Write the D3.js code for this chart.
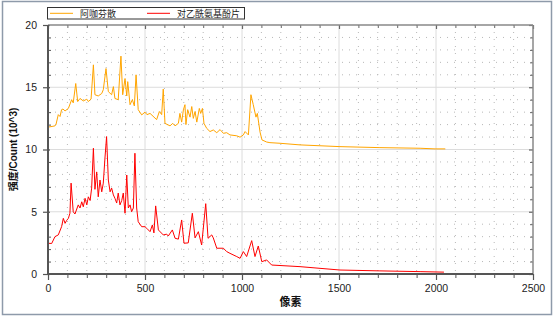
<!DOCTYPE html>
<html><head><meta charset="utf-8">
<script src="https://cdn.jsdelivr.net/npm/d3@7/dist/d3.min.js"></script>
<style>body{margin:0;background:#fff;}svg{display:block;}</style>
</head><body>
<svg id="c" width="554" height="317"></svg>
<script>
// ---- data ----
const seriesNames = ["阿咖芬散", "对乙酰氨基酚片"];
const xTicks = [0, 500, 1000, 1500, 2000, 2500];
const yTicks = [0, 5, 10, 15, 20];
const axisTitleX = "像素";
const axisTitleY = "强度/Count (10^3)";

const orangeX = [0,21,36,41,53,62,70,77,88,105,122,130,143,153,165,182,200,208,222,234,242,259,277,285,299,311,328,337,345,362,376,385,397,406,411,423,435,445,454,465,483,500,510,526,560,574,586,594,603,629,643,655,672,680,689,698,706,711,720,732,741,749,758,767,780,787,796,804,818,835,852,870,887,904,921,938,973,990,1007,1016,1033,1046,1058,1072,1079,1093,1103,1127,1144,1196,1299,1505,1711,1918,1995,2048];
const orangeY = [11.8,11.85,11.9,12.0,12.8,12.65,13.2,13.25,13.1,13.3,14.0,13.75,15.3,13.85,14.1,13.9,14.04,13.85,14.05,16.8,14.4,14.3,14.5,14.8,16.5,14.65,14.4,15.05,14.1,14.0,17.5,14.4,15.7,14.3,15.45,13.6,14.0,13.5,16.0,13.2,12.78,13.0,12.8,12.9,12.4,13.05,12.8,14.85,12.1,11.9,12.1,11.9,12.1,12.9,12.2,13.2,13.6,12.0,13.2,12.6,13.45,12.5,13.05,12.2,13.3,12.9,13.3,12.1,11.7,11.44,11.57,11.35,11.6,11.3,11.35,11.17,11.1,10.99,11.17,11.44,11.17,14.4,13.6,12.6,12.9,11.4,10.77,10.6,10.55,10.5,10.37,10.23,10.15,10.1,10.05,10.05];

const redX = [0,19,36,53,70,79,88,96,105,113,119,130,139,156,165,174,182,191,200,208,217,225,234,242,251,259,268,277,285,294,302,311,320,328,337,345,354,362,371,380,388,397,406,414,423,431,440,448,457,465,483,500,509,526,538,546,555,569,594,612,620,641,655,672,689,701,723,744,758,775,792,813,825,844,852,870,904,921,938,973,990,1007,1024,1050,1067,1084,1102,1127,1153,1299,1505,1711,1918,2041];
const redY = [2.47,2.45,3.0,3.14,3.8,4.47,4.07,4.3,4.47,4.88,7.3,5.0,4.82,5.55,5.3,5.8,5.4,6.08,5.55,6.2,5.9,6.9,10.1,6.8,8.2,6.2,7.55,6.6,7.3,9.4,11.04,7.55,6.6,6.9,6.35,6.08,5.7,6.5,5.55,5.9,6.5,4.88,7.95,5.3,5.55,5.0,5.3,9.7,5.3,4.2,3.8,3.8,3.67,3.4,3.94,3.3,5.47,3.54,3.14,3.2,3.05,3.54,2.87,2.8,4.34,2.47,2.5,4.88,2.9,3.4,2.33,5.65,2.87,3.14,2.9,2.07,2.07,1.8,1.66,1.4,1.26,1.8,1.4,2.68,1.4,2.25,0.99,1.13,0.72,0.59,0.32,0.25,0.19,0.15];

const colors = ["#ffa500", "#ff0000"];

// ---- layout ----
const svg = d3.select("#c");
const L = 48, R = 533, T = 25, B = 274;
const x = d3.scaleLinear().domain([0, 2500]).range([L, R]);
const y = d3.scaleLinear().domain([0, 20]).range([B, T]);
const font = "'Liberation Sans', Arial, 'Noto Sans CJK SC', sans-serif";

// outer frame
svg.append("rect").attr("x", 2.5).attr("y", 1.5).attr("width", 549).attr("height", 313)
  .attr("fill", "#fff").attr("stroke", "#8e9aaa").attr("stroke-width", 1.5);

const minorX = d3.range(100, 2500, 100).filter(v => v % 500 !== 0);
const minorY = d3.range(1, 20, 1).filter(v => v % 5 !== 0);

// minor dotted grid
const g = svg.append("g");
g.selectAll(".mgx").data(minorX).join("line")
  .attr("x1", d => x(d)).attr("x2", d => x(d)).attr("y1", T).attr("y2", B)
  .attr("stroke", "#b8b8b8").attr("stroke-width", 1).attr("stroke-dasharray", "1,6");
g.selectAll(".mgy").data(minorY).join("line")
  .attr("y1", d => y(d)).attr("y2", d => y(d)).attr("x1", L).attr("x2", R)
  .attr("stroke", "#b8b8b8").attr("stroke-width", 1).attr("stroke-dasharray", "1,6");
// major grid
g.selectAll(".gx").data(xTicks.slice(1, -1)).join("line")
  .attr("x1", d => x(d)).attr("x2", d => x(d)).attr("y1", T).attr("y2", B)
  .attr("stroke", "#dcdcdc").attr("stroke-width", 1);
g.selectAll(".gy").data(yTicks.slice(1, -1)).join("line")
  .attr("y1", d => y(d)).attr("y2", d => y(d)).attr("x1", L).attr("x2", R)
  .attr("stroke", "#dcdcdc").attr("stroke-width", 1);

// series
const line = d3.line().x(d => x(d[0])).y(d => y(d[1]));
const ser = [d3.zip(orangeX, orangeY), d3.zip(redX, redY)];
ser.forEach((s, i) => {
  svg.append("path").datum(s).attr("d", line).attr("fill", "none")
    .attr("stroke", colors[i]).attr("stroke-width", 1).attr("stroke-linejoin", "round");
});

// axes
function styleAxis(sel, col, w) {
  sel.select(".domain").remove();
  sel.selectAll("line").attr("stroke", col).attr("stroke-width", w);
  sel.selectAll("text").attr("fill", "#222").style("font-family", font).style("font-size", "10.5px");
}
// bottom
const gb = svg.append("g").attr("transform", `translate(0,${B})`)
  .call(d3.axisBottom(x).tickValues(xTicks).tickSize(6).tickPadding(5).tickFormat(d3.format("d")));
styleAxis(gb, "#555", 1.2);
const gbm = svg.append("g").attr("transform", `translate(0,${B})`)
  .call(d3.axisBottom(x).tickValues(minorX).tickSize(4).tickFormat(""));
styleAxis(gbm, "#555", 1);
// left
const gl = svg.append("g").attr("transform", `translate(${L},0)`)
  .call(d3.axisLeft(y).tickValues(yTicks).tickSize(5).tickPadding(6));
styleAxis(gl, "#555", 1.2);
gl.selectAll(".tick line").attr("x2", 2).attr("x1", -5);
const glm = svg.append("g").attr("transform", `translate(${L},0)`)
  .call(d3.axisLeft(y).tickValues(minorY).tickSize(-3).tickFormat(""));
styleAxis(glm, "#555", 1);
// top
const gt = svg.append("g").attr("transform", `translate(0,${T})`)
  .call(d3.axisTop(x).tickValues(xTicks).tickSize(-4).tickFormat(""));
styleAxis(gt, "#666", 1.2);
const gtm = svg.append("g").attr("transform", `translate(0,${T})`)
  .call(d3.axisTop(x).tickValues(minorX).tickSize(-3).tickFormat(""));
styleAxis(gtm, "#666", 1);
// right
const gr = svg.append("g").attr("transform", `translate(${R},0)`)
  .call(d3.axisRight(y).tickValues(yTicks).tickSize(-4).tickFormat(""));
styleAxis(gr, "#666", 1.2);
const grm = svg.append("g").attr("transform", `translate(${R},0)`)
  .call(d3.axisRight(y).tickValues(minorY).tickSize(-3).tickFormat(""));
styleAxis(grm, "#666", 1);

// frame lines
svg.append("line").attr("x1", L).attr("x2", R).attr("y1", T).attr("y2", T).attr("stroke", "#888").attr("stroke-width", 1.5);
svg.append("line").attr("x1", R).attr("x2", R).attr("y1", T).attr("y2", B).attr("stroke", "#888").attr("stroke-width", 1.5);
svg.append("line").attr("x1", L).attr("x2", L).attr("y1", T).attr("y2", B + 1).attr("stroke", "#555").attr("stroke-width", 2);
svg.append("line").attr("x1", L - 1).attr("x2", R).attr("y1", B).attr("y2", B).attr("stroke", "#555").attr("stroke-width", 2);

// axis titles
svg.append("text").attr("x", (L + R) / 2).attr("y", 306).attr("text-anchor", "middle")
  .style("font-family", font).style("font-size", "11px").style("font-weight", "bold").attr("fill", "#111")
  .text(axisTitleX);
svg.append("text").attr("transform", `translate(17,${(T + B) / 2}) rotate(-90)`).attr("text-anchor", "middle")
  .style("font-family", font).style("font-size", "10px").style("font-weight", "bold").attr("fill", "#111")
  .text(axisTitleY);

// legend
const lg = svg.append("g");
lg.append("rect").attr("x", 47.5).attr("y", 7.5).attr("width", 197).attr("height", 11.5)
  .attr("fill", "#fff").attr("stroke", "#333").attr("stroke-width", 1);
const legX = [50, 147];
seriesNames.forEach((n, i) => {
  lg.append("line").attr("x1", legX[i]).attr("x2", legX[i] + 23).attr("y1", 13.3).attr("y2", 13.3)
    .attr("stroke", colors[i]).attr("stroke-width", 1);
  lg.append("text").attr("x", legX[i] + 30).attr("y", 16.6)
    .style("font-family", "'Noto Sans CJK SC', sans-serif").style("font-size", "9px").attr("fill", "#222")
    .text(n);
});
</script>
</body></html>
